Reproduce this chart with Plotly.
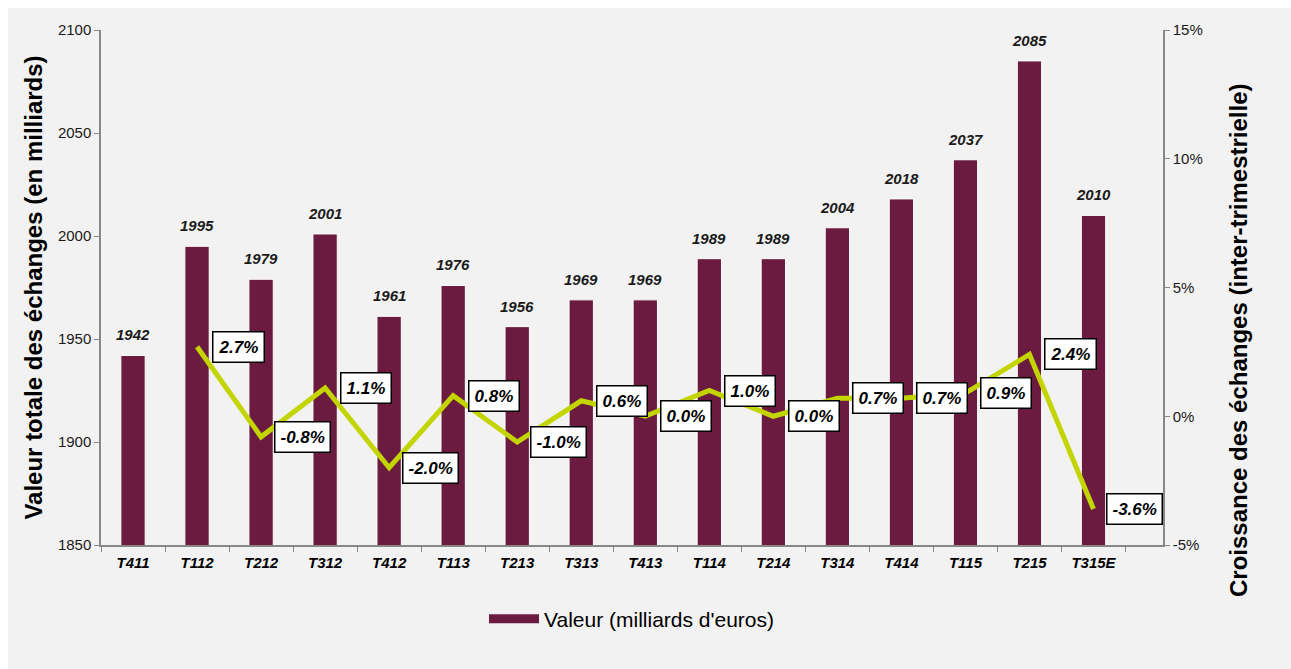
import plotly.graph_objects as go

categories = ["T411", "T112", "T212", "T312", "T412", "T113", "T213", "T313",
              "T413", "T114", "T214", "T314", "T414", "T115", "T215", "T315E"]
valeurs = [1942, 1995, 1979, 2001, 1961, 1976, 1956, 1969, 1969, 1989, 1989,
           2004, 2018, 2037, 2085, 2010]
croissance = [None, 2.7, -0.8, 1.1, -2.0, 0.8, -1.0, 0.6, 0.0, 1.0, 0.0,
              0.7, 0.7, 0.9, 2.4, -3.6]
y1_ticks = [1850, 1900, 1950, 2000, 2050, 2100]
y2_ticks = [-5, 0, 5, 10, 15]
y2_ticktext = ["-5%", "0%", "5%", "10%", "15%"]

BAR = "#6b1a40"
LINE = "#c3d500"
GREY_AXIS = "#878787"
BG = "#f2f2f2"
FONT = "Liberation Sans, Arial, sans-serif"

fig = go.Figure()
fig.add_trace(go.Bar(
    x=categories, y=valeurs, name="Valeur (milliards d'euros)",
    marker=dict(color=BAR, line=dict(color="white", width=1)),
    showlegend=False,
))
fig.add_trace(go.Scatter(
    x=categories, y=croissance, yaxis="y2", mode="lines",
    line=dict(color=LINE, width=5), showlegend=False, connectgaps=False,
))
# legend entry for the value series (wide swatch as in the original)
fig.add_trace(go.Scatter(
    x=[None], y=[None], mode="lines", name="Valeur (milliards d'euros)",
    line=dict(color=BAR, width=9), showlegend=True,
))

for c, v in zip(categories, valeurs):
    fig.add_annotation(
        x=c, y=v, yref="y", yanchor="bottom", yshift=10, showarrow=False,
        text=f"<b><i>{v}</i></b>",
        font=dict(family=FONT, size=15, color="#1a1a1a"),
    )

for c, v in zip(categories, croissance):
    if v is None:
        continue
    fig.add_annotation(
        x=c, y=v, yref="y2", xshift=41, showarrow=False,
        text=f"<b><i>{v:.1f}%</i></b>",
        font=dict(family=FONT, size=17, color="black"),
        bgcolor="white", bordercolor="black", borderwidth=1.5, borderpad=5,
    )

# right axis title (placed lower than the axis centre, as in the original)
fig.add_annotation(
    xref="paper", yref="paper", x=1.0706, y=0.398, xanchor="center", yanchor="middle",
    textangle=-90, showarrow=False,
    text="<b>Croissance des échanges (inter-trimestrielle)</b>",
    font=dict(family=FONT, size=24, color="black"),
)

fig.update_layout(
    width=1283, height=661,
    margin=dict(l=93, r=128, t=22, b=124),
    paper_bgcolor=BG, plot_bgcolor=BG,
    bargap=0.62,
    font=dict(family=FONT, size=15, color="#1a1a1a"),
    xaxis=dict(
        showline=True, linecolor=GREY_AXIS, linewidth=1.5,
        ticks="outside", tickson="boundaries", ticklen=5, tickcolor=GREY_AXIS,
        tickfont=dict(family=FONT, size=15, color="black", weight="bold", style="italic"),
        ticklabelstandoff=3,
        showgrid=False,
    ),
    yaxis=dict(
        range=[1850, 2100], tickvals=y1_ticks,
        showline=True, linecolor=GREY_AXIS, linewidth=1.5,
        ticks="outside", ticklen=5, tickcolor=GREY_AXIS,
        tickfont=dict(family=FONT, size=15, color="#1a1a1a"),
        showgrid=False, zeroline=False,
        title=dict(text="<b>Valeur totale des échanges (en milliards)</b>",
                   font=dict(family=FONT, size=24, color="black"), standoff=8),
    ),
    yaxis2=dict(
        range=[-5, 15], tickvals=y2_ticks, ticktext=y2_ticktext,
        overlaying="y", side="right",
        showline=True, linecolor=GREY_AXIS, linewidth=1.5,
        ticks="outside", ticklen=5, tickcolor=GREY_AXIS,
        tickfont=dict(family=FONT, size=15, color="#1a1a1a"),
        showgrid=False, zeroline=False,
    ),
    legend=dict(orientation="h", x=0.5, xanchor="center", y=-0.144, yanchor="middle",
                font=dict(family=FONT, size=21, color="black"),
                bgcolor="rgba(0,0,0,0)", itemwidth=50),
)

fig.write_html(
    "out.html",
    post_script=(
        "var h=document.documentElement, b=document.body;"
        "h.style.background='#f2f2f2'; h.style.overflow='hidden';"
        "b.style.margin='0'; b.style.overflow='hidden';"
        "b.style.borderTop='8px solid #ffffff'; b.style.borderLeft='8px solid #ffffff';"
    ),
)
